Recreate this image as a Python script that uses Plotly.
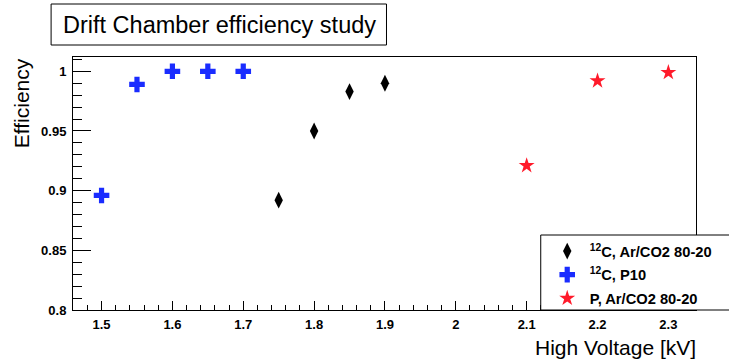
import plotly.graph_objects as go

# Efficiency vs. high voltage for three gas / beam configurations
hv_c12_arco2 = [1.75, 1.80, 1.85, 1.90]
eff_c12_arco2 = [0.892, 0.950, 0.983, 0.990]

hv_c12_p10 = [1.50, 1.55, 1.60, 1.65, 1.70]
eff_c12_p10 = [0.896, 0.989, 1.000, 1.000, 1.000]

hv_p_arco2 = [2.10, 2.20, 2.30]
eff_p_arco2 = [0.921, 0.992, 0.999]

y_ticks = [0.80, 0.85, 0.90, 0.95, 1.00]
y_tick_text = ["0.8", "0.85", "0.9", "0.95", "1"]
x_ticks = [1.5, 1.6, 1.7, 1.8, 1.9, 2.0, 2.1, 2.2, 2.3]
x_tick_text = ["1.5", "1.6", "1.7", "1.8", "1.9", "2", "2.1", "2.2", "2.3"]

W, H = 729, 363
L, R, T, B = 73, 30, 57, 53
PW, PH = W - L - R, H - T - B


def px(x):
    return (x - L) / PW


def py(y):
    return (H - B - y) / PH


FONT = "Liberation Sans, Arial, Helvetica, sans-serif"

fig = go.Figure()
fig.add_trace(go.Scatter(
    x=hv_c12_arco2, y=eff_c12_arco2, mode="markers",
    name="<sup>12</sup>C, Ar/CO2 80-20", legendgroup="a",
    marker=dict(symbol="diamond-tall", size=12, color="black", line=dict(width=0)),
))
fig.add_trace(go.Scatter(
    x=hv_c12_p10, y=eff_c12_p10, mode="markers",
    name="<sup>12</sup>C, P10", legendgroup="b",
    marker=dict(symbol="cross", size=13, color="#1a2cff", line=dict(width=0)),
))
fig.add_trace(go.Scatter(
    x=hv_p_arco2, y=eff_p_arco2, mode="markers",
    name="P, Ar/CO2 80-20", legendgroup="c",
    marker=dict(symbol="star", size=12, color="#ff1a2a", line=dict(width=0)),
))

tickfont = dict(family=FONT, size=13, color="black", weight="bold")

fig.update_xaxes(
    range=[1.4597, 2.339], tickvals=x_ticks, ticktext=x_tick_text,
    ticks="inside", ticklen=9, tickwidth=1, tickcolor="black",
    minor=dict(dtick=0.02, tick0=1.5, ticks="inside", ticklen=5, tickcolor="black"),
    showgrid=False, zeroline=False, showline=True, linecolor="black", linewidth=1,
    mirror=True, tickfont=tickfont, ticklabelstandoff=2,
)
fig.update_yaxes(
    range=[0.8, 1.012], tickvals=y_ticks, ticktext=y_tick_text,
    ticks="inside", ticklen=18, tickwidth=1, tickcolor="black",
    minor=dict(dtick=0.01, tick0=0.8, ticks="inside", ticklen=9, tickcolor="black"),
    showgrid=False, zeroline=False, showline=True, linecolor="black", linewidth=1,
    mirror=True, tickfont=tickfont, ticklabelstandoff=3,
)

shapes = [
    # title box
    dict(type="rect", xref="paper", yref="paper",
         x0=px(51), x1=px(388), y0=py(45), y1=py(4),
         line=dict(color="black", width=1), fillcolor="white", layer="above"),
    # legend box
    dict(type="rect", xref="paper", yref="paper",
         x0=px(543), x1=px(740), y0=py(310), y1=py(235),
         line=dict(color="black", width=1), fillcolor="white", layer="above"),
]

annotations = [
    dict(text="Drift Chamber efficiency study", xref="paper", yref="paper",
         x=px(220), y=py(25), xanchor="center", yanchor="middle", showarrow=False,
         font=dict(family=FONT, size=23.5, color="black")),
    dict(text="High Voltage [kV]", xref="paper", yref="paper",
         x=px(701), y=py(347), xanchor="right", yanchor="middle", showarrow=False,
         font=dict(family=FONT, size=21, color="black")),
    dict(text="Efficiency", xref="paper", yref="paper", textangle=-90,
         x=px(22), y=py(103), xanchor="center", yanchor="middle", showarrow=False,
         font=dict(family=FONT, size=21, color="black")),
]

fig.update_layout(
    width=W, height=H,
    margin=dict(l=L, r=R, t=T, b=B),
    paper_bgcolor="white", plot_bgcolor="white",
    shapes=shapes, annotations=annotations,
    showlegend=True,
    legend=dict(
        x=px(547), y=py(235), xanchor="left", yanchor="top",
        bgcolor="rgba(0,0,0,0)", borderwidth=0, tracegroupgap=1.5, itemwidth=35,
        font=dict(family=FONT, size=14.7, color="black", weight="bold"),
    ),
)

fig.write_html("out.html")
